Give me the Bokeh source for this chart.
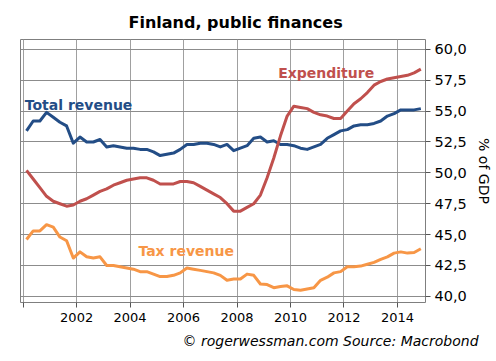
from bokeh.plotting import figure
from bokeh.models import (ColumnDataSource, FixedTicker, CustomJSTickFormatter,
                          Label, Title, Range1d)
from bokeh.embed import file_html
from bokeh.resources import INLINE

# ---- data (quarterly, % of GDP) ----
years = list(range(2000, 2015))
quarters = [1, 2, 3, 4]

total_revenue = [
    53.4, 54.2, 54.2, 54.9,
    54.5, 54.1, 53.8, 52.4,
    52.9, 52.5, 52.5, 52.7,
    52.1, 52.2, 52.1, 52.0,
    52.0, 51.9, 51.9, 51.7,
    51.4, 51.5, 51.6, 51.9,
    52.3, 52.3, 52.4, 52.4,
    52.3, 52.1, 52.3, 51.8,
    52.0, 52.2, 52.8, 52.9,
    52.5, 52.6, 52.3, 52.3,
    52.2, 52.0, 51.9, 52.1,
    52.3, 52.8, 53.1, 53.4,
    53.5, 53.8, 53.9, 53.9,
    54.0, 54.2, 54.6, 54.8,
    55.1, 55.1, 55.1, 55.2,
]

expenditure = [
    50.2, 49.5, 48.8, 48.1,
    47.7, 47.5, 47.3, 47.4,
    47.7, 47.9, 48.2, 48.5,
    48.7, 49.0, 49.2, 49.4,
    49.5, 49.6, 49.6, 49.4,
    49.1, 49.1, 49.1, 49.3,
    49.3, 49.2, 48.9, 48.6,
    48.3, 48.0, 47.5, 46.9,
    46.9, 47.2, 47.5, 48.2,
    49.6, 51.2, 53.0, 54.6,
    55.4, 55.3, 55.2, 54.9,
    54.7, 54.6, 54.4, 54.4,
    55.0, 55.6, 56.0, 56.5,
    57.1, 57.4, 57.6, 57.7,
    57.8, 57.9, 58.1, 58.4,
]

tax_revenue = [
    44.6, 45.3, 45.3, 45.8,
    45.6, 44.8, 44.5, 43.1,
    43.6, 43.2, 43.1, 43.2,
    42.5, 42.5, 42.4, 42.3,
    42.2, 42.0, 42.0, 41.8,
    41.6, 41.6, 41.7, 41.9,
    42.3, 42.2, 42.1, 42.0,
    41.9, 41.7, 41.3, 41.4,
    41.4, 41.8, 41.7, 41.0,
    40.95, 40.7, 40.8, 40.85,
    40.55, 40.5, 40.6, 40.7,
    41.3, 41.55, 41.9, 42.0,
    42.4, 42.4, 42.45, 42.6,
    42.75, 43.0, 43.2, 43.5,
    43.6, 43.5, 43.55, 43.85,
]

x_ticks = [2000, 2002, 2004, 2006, 2008, 2010, 2012, 2014]
y_ticks = [40.0, 42.5, 45.0, 47.5, 50.0, 52.5, 55.0, 57.5, 60.0]

# quarter mid-points as decimal years
t = [y + (q - 0.5) / 4 for y in years for q in quarters]

BLUE = "#234d86"
RED = "#c0504d"
ORANGE = "#f79646"
FONT = "DejaVu Sans"

src = ColumnDataSource(dict(t=t, total=total_revenue, exp=expenditure, tax=tax_revenue))

p = figure(width=494, height=360, output_backend="svg", toolbar_location=None,
           y_axis_location="right",
           x_range=Range1d(1999.9, 2015.05), y_range=Range1d(39.5, 60.8),
           min_border_left=20, min_border_right=69,
           min_border_top=39, min_border_bottom=58)

p.title.text = "Finland, public finances"
p.title.text_font = FONT
p.title.text_font_size = "16px"
p.title.text_font_style = "bold"
p.title.align = "left"
p.title.offset = 108
p.title.standoff = 16
p.title.text_color = "#000000"

p.line("t", "total", source=src, color=BLUE, line_width=3, line_join="round")
p.line("t", "exp", source=src, color=RED, line_width=3, line_join="round")
p.line("t", "tax", source=src, color=ORANGE, line_width=3, line_join="round")

# axes
xa = p.xaxis[0]
xa.ticker = FixedTicker(ticks=x_ticks)
xa.formatter = CustomJSTickFormatter(code="return tick == 2000 ? '' : tick.toFixed(0);")
xa.major_label_text_font = FONT
xa.major_label_text_font_size = "13px"
xa.major_label_text_color = "#000000"
xa.axis_line_color = None
xa.major_tick_in = 0
xa.major_tick_out = 5
xa.major_tick_line_color = "#555555"
xa.minor_tick_line_color = None
xa.major_label_standoff = 5

ya = p.yaxis[0]
ya.ticker = FixedTicker(ticks=y_ticks)
ya.formatter = CustomJSTickFormatter(code="return tick.toFixed(1).replace('.', ',');")
ya.major_label_text_font = FONT
ya.major_label_text_font_size = "14.5px"
ya.major_label_text_color = "#000000"
ya.axis_line_color = None
ya.major_tick_in = 0
ya.major_tick_out = 5
ya.major_tick_line_color = "#555555"
ya.minor_tick_line_color = None
ya.major_label_standoff = 4
ya.axis_label = "% of GDP"
ya.axis_label_text_font = FONT
ya.axis_label_text_font_size = "14px"
ya.axis_label_text_font_style = "normal"
ya.axis_label_text_color = "#000000"
ya.axis_label_standoff = 6

# grid and frame
p.xgrid.ticker = FixedTicker(ticks=x_ticks)
p.ygrid.ticker = FixedTicker(ticks=y_ticks)
p.xgrid.grid_line_color = "#a0a0a0"
p.ygrid.grid_line_color = "#8c8c8c"
p.xgrid.grid_line_width = 1
p.ygrid.grid_line_width = 1
p.outline_line_color = "#7f7f7f"
p.outline_line_width = 1
p.background_fill_color = "white"
p.border_fill_color = "white"

# series labels
for txt, xx, yy, col in [("Total revenue", 2000.06, 55.47, BLUE),
                         ("Expenditure", 2009.54, 58.08, RED),
                         ("Tax revenue", 2004.31, 43.64, ORANGE)]:
    p.add_layout(Label(x=xx, y=yy, text=txt, text_color=col, text_font=FONT,
                       text_font_size="14px", text_font_style="bold",
                       text_baseline="alphabetic"))

# footnote
foot = Title(text="\u00a9 rogerwessman.com Source: Macrobond", text_font=FONT,
             text_font_size="14px", text_font_style="italic", align="left",
             offset=162, standoff=12, text_color="#000000")
p.add_layout(foot, "below")

open("out.html", "w").write(file_html(p, INLINE))
